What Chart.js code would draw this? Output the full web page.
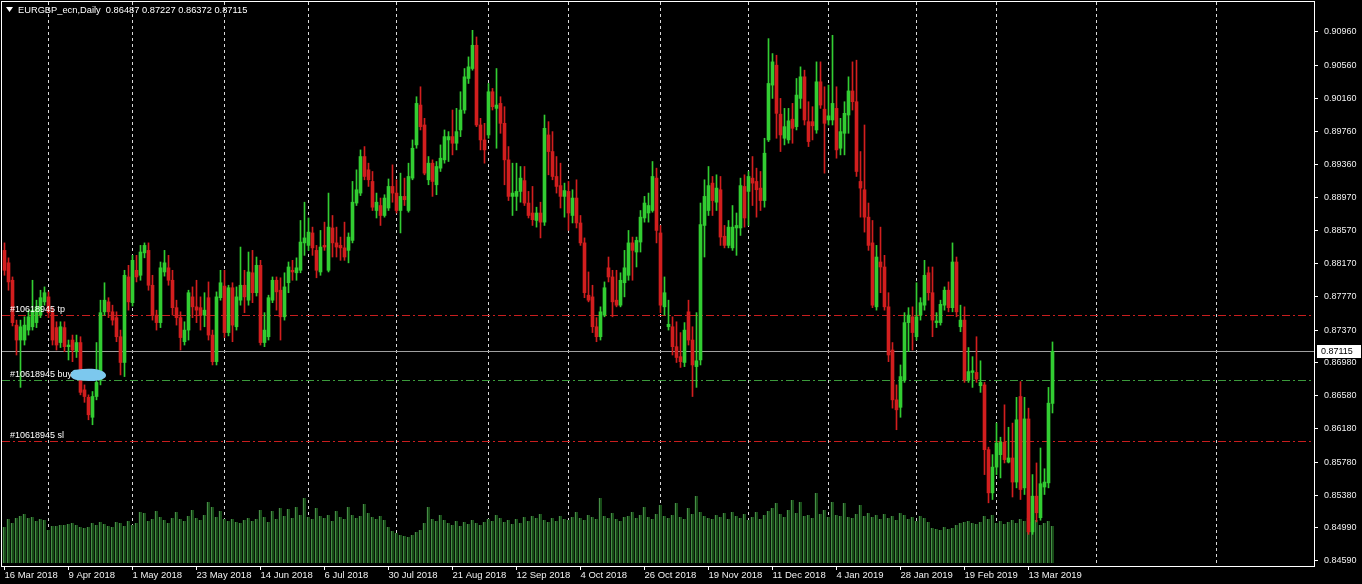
<!DOCTYPE html>
<html>
<head>
<title>EURGBP_ecn, Daily</title>
<script src="https://cdn.jsdelivr.net/npm/chart.js"></script>
<style>
  body { margin: 0; background: #000; }
  canvas { display: block; }
</style>
</head>
<body>
<canvas id="chart" width="1362" height="584"></canvas>
<script>
// daily bars, 16 Mar 2018 .. 21 Mar 2019
const open = [
  0.8833,0.8818,0.8797,0.8743,0.8725,0.8725,0.8737,0.8741,0.8746,0.8755,
  0.8771,0.8777,0.8758,0.8740,0.8722,0.8740,0.8717,0.8725,0.8711,0.8722,
  0.8665,0.8656,0.8632,0.8657,0.8677,0.8759,0.8771,0.8759,0.8752,0.8729,
  0.8698,0.8801,0.8770,0.8809,0.8803,0.8830,0.8833,0.8791,0.8755,0.8746,
  0.8807,0.8812,0.8797,0.8764,0.8752,0.8723,0.8737,0.8777,0.8765,0.8764,
  0.8755,0.8776,0.8731,0.8699,0.8776,0.8790,0.8734,0.8788,0.8741,0.8773,
  0.8791,0.8773,0.8806,0.8782,0.8815,0.8722,0.8729,0.8773,0.8797,0.8785,
  0.8753,0.8794,0.8809,0.8806,0.8809,0.8842,0.8839,0.8854,0.8833,0.8807,
  0.8839,0.8809,0.8860,0.8842,0.8839,0.8836,0.8833,0.8845,0.8890,0.8902,
  0.8946,0.8930,0.8916,0.8881,0.8887,0.8875,0.8884,0.8910,0.8902,0.8881,
  0.8898,0.8881,0.8920,0.8960,0.9008,0.8984,0.8918,0.8938,0.8912,0.8932,
  0.8942,0.8966,0.8970,0.8962,0.8978,0.9002,0.9040,0.9052,0.9080,0.8984,
  0.8966,0.8972,0.9024,0.9004,0.9010,0.8986,0.8942,0.8898,0.8898,0.8904,
  0.8917,0.8890,0.8878,0.8869,0.8878,0.8867,0.8972,0.8952,0.8922,0.8911,
  0.8898,0.8904,0.8875,0.8896,0.8866,0.8842,0.8779,0.8777,0.8741,0.8729,
  0.8755,0.8812,0.8801,0.8773,0.8767,0.8794,0.8803,0.8842,0.8831,0.8843,
  0.8872,0.8878,0.8881,0.8920,0.8854,0.8765,0.8741,0.8741,0.8717,0.8705,
  0.8698,0.8759,0.8725,0.8693,0.8701,0.8863,0.8881,0.8914,0.8891,0.8906,
  0.8850,0.8839,0.8836,0.8860,0.8860,0.8910,0.8904,0.8920,0.8916,0.8908,
  0.8893,0.8966,0.9032,0.9056,0.8997,0.8968,0.8966,0.8991,0.8982,0.9016,
  0.9042,0.8988,0.8988,0.8978,0.9036,0.9003,0.8990,0.8990,0.9004,0.8956,
  0.8974,0.8996,0.9025,0.9012,0.8916,0.8906,0.8873,0.8842,0.8765,0.8819,
  0.8813,0.8765,0.8713,0.8653,0.8644,0.8677,0.8746,0.8753,0.8729,0.8755,
  0.8767,0.8806,0.8782,0.8746,0.8746,0.8767,0.8785,0.8764,0.8819,0.8741,
  0.8749,0.8677,0.8686,0.8686,0.8670,0.8671,0.8593,0.8541,0.8572,0.8587,
  0.8602,0.8578,0.8583,0.8554,0.8657,0.8547,0.8630,0.8494,0.8537,0.8511,
  0.8548,0.8553,0.86487
];
const high = [
  0.8842,0.8824,0.8801,0.8749,0.8749,0.8753,0.8761,0.8797,0.8773,0.8785,
  0.8789,0.8783,0.8764,0.8747,0.8747,0.8747,0.8725,0.8731,0.8731,0.8729,
  0.8671,0.8659,0.8663,0.8722,0.8773,0.8794,0.8776,0.8767,0.8759,0.8737,
  0.8809,0.8815,0.8827,0.8827,0.8839,0.8842,0.8842,0.8803,0.8761,0.8819,
  0.8833,0.8827,0.8809,0.8773,0.8759,0.8747,0.8785,0.8789,0.8797,0.8777,
  0.8782,0.8795,0.8737,0.8783,0.8809,0.8809,0.8791,0.8794,0.8789,0.8837,
  0.8809,0.8831,0.8833,0.8825,0.8821,0.8758,0.8779,0.8801,0.8801,0.8800,
  0.8806,0.8819,0.8821,0.8824,0.8869,0.8891,0.8872,0.8861,0.8839,0.8857,
  0.8867,0.8902,0.8875,0.8861,0.8849,0.8867,0.8854,0.8916,0.8930,0.8954,
  0.8958,0.8938,0.8928,0.8902,0.8896,0.8900,0.8919,0.8936,0.8918,0.8926,
  0.8920,0.8938,0.8966,0.9018,0.9030,0.8992,0.8946,0.8942,0.8940,0.8960,
  0.8978,0.8976,0.9002,0.9004,0.9024,0.9052,0.9066,0.9098,0.9090,0.8992,
  0.8986,0.9034,0.9028,0.9052,0.9018,0.9006,0.8958,0.8938,0.8938,0.8934,
  0.8934,0.8904,0.8910,0.8885,0.8891,0.8996,0.8988,0.8976,0.8946,0.8938,
  0.8914,0.8916,0.8906,0.8918,0.8875,0.8848,0.8807,0.8791,0.8752,0.8765,
  0.8795,0.8825,0.8809,0.8809,0.8806,0.8833,0.8857,0.8849,0.8849,0.8881,
  0.8898,0.8902,0.8940,0.8932,0.8863,0.8801,0.8773,0.8753,0.8747,0.8734,
  0.8746,0.8773,0.8741,0.8758,0.8890,0.8918,0.8934,0.8922,0.8924,0.8922,
  0.8863,0.8869,0.8887,0.8878,0.8920,0.8924,0.8928,0.8946,0.8932,0.8928,
  0.8968,0.9088,0.9070,0.9068,0.9016,0.9004,0.9004,0.9010,0.9040,0.9054,
  0.9050,0.9012,0.9006,0.9060,0.9060,0.9030,0.9032,0.9092,0.9030,0.8992,
  0.9012,0.9042,0.9060,0.9062,0.8952,0.8984,0.8890,0.8869,0.8839,0.8861,
  0.8827,0.8782,0.8722,0.8671,0.8695,0.8758,0.8764,0.8765,0.8794,0.8776,
  0.8821,0.8813,0.8813,0.8758,0.8773,0.8789,0.8795,0.8842,0.8825,0.8767,
  0.8765,0.8716,0.8705,0.8729,0.8700,0.8674,0.8596,0.8587,0.8625,0.8608,
  0.8647,0.8620,0.8625,0.8656,0.8675,0.8656,0.8643,0.8563,0.8577,0.8595,
  0.8570,0.8668,0.87227
];
const low = [
  0.8803,0.8785,0.8742,0.8707,0.8668,0.8719,0.8731,0.8737,0.8740,0.8752,
  0.8767,0.8752,0.8719,0.8713,0.8716,0.8711,0.8701,0.8699,0.8704,0.8659,
  0.8650,0.8629,0.8623,0.8653,0.8671,0.8755,0.8752,0.8743,0.8723,0.8683,
  0.8681,0.8761,0.8766,0.8795,0.8797,0.8824,0.8785,0.8749,0.8737,0.8740,
  0.8802,0.8791,0.8755,0.8743,0.8713,0.8719,0.8725,0.8752,0.8746,0.8737,
  0.8741,0.8725,0.8695,0.8695,0.8773,0.8728,0.8730,0.8723,0.8737,0.8767,
  0.8758,0.8767,0.8770,0.8778,0.8719,0.8717,0.8725,0.8770,0.8761,0.8725,
  0.8749,0.8782,0.8797,0.8797,0.8806,0.8827,0.8833,0.8827,0.8800,0.8803,
  0.8833,0.8807,0.8825,0.8825,0.8821,0.8821,0.8818,0.8842,0.8887,0.8899,
  0.8918,0.8910,0.8881,0.8872,0.8863,0.8873,0.8881,0.8891,0.8878,0.8854,
  0.8887,0.8879,0.8918,0.8956,0.8978,0.8924,0.8912,0.8898,0.8900,0.8928,
  0.8938,0.8940,0.8948,0.8954,0.8970,0.8998,0.9034,0.9050,0.8982,0.8954,
  0.8938,0.8968,0.9002,0.8956,0.8974,0.8912,0.8893,0.8875,0.8881,0.8891,
  0.8887,0.8872,0.8863,0.8861,0.8848,0.8863,0.8924,0.8918,0.8902,0.8884,
  0.8873,0.8857,0.8866,0.8860,0.8839,0.8776,0.8771,0.8734,0.8723,0.8725,
  0.8753,0.8795,0.8753,0.8765,0.8765,0.8777,0.8797,0.8797,0.8813,0.8831,
  0.8867,0.8867,0.8879,0.8842,0.8758,0.8755,0.8737,0.8707,0.8698,0.8692,
  0.8693,0.8719,0.8657,0.8668,0.8695,0.8825,0.8875,0.8875,0.8881,0.8839,
  0.8836,0.8836,0.8833,0.8827,0.8851,0.8861,0.8863,0.8887,0.8873,0.8881,
  0.8885,0.8964,0.9016,0.8968,0.8952,0.8960,0.8962,0.8962,0.8978,0.9004,
  0.8984,0.8958,0.8966,0.8974,0.9004,0.8926,0.8984,0.8984,0.8944,0.8948,
  0.8948,0.8974,0.9002,0.8922,0.8873,0.8855,0.8833,0.8764,0.8761,0.8782,
  0.8761,0.8699,0.8643,0.8617,0.8632,0.8674,0.8711,0.8713,0.8725,0.8749,
  0.8761,0.8773,0.8729,0.8740,0.8743,0.8761,0.8759,0.8759,0.8753,0.8735,
  0.8674,0.8674,0.8668,0.8674,0.8662,0.8563,0.8529,0.8533,0.8563,0.8559,
  0.8577,0.8577,0.8536,0.8547,0.8533,0.8539,0.8491,0.8491,0.8506,0.8508,
  0.8539,0.8547,0.86372
];
const close = [
  0.8809,0.8795,0.8746,0.8725,0.8741,0.8743,0.8753,0.8761,0.8765,0.8776,
  0.8782,0.8758,0.8725,0.8719,0.8741,0.8717,0.8719,0.8713,0.8722,0.8662,
  0.8657,0.8635,0.8657,0.8674,0.8758,0.8773,0.8759,0.8749,0.8729,0.8698,
  0.8803,0.8771,0.8821,0.8801,0.8831,0.8839,0.8791,0.8755,0.8746,0.8812,
  0.8818,0.8797,0.8764,0.8752,0.8728,0.8737,0.8782,0.8765,0.8761,0.8755,
  0.8761,0.8731,0.8699,0.8777,0.8794,0.8734,0.8788,0.8743,0.8777,0.8791,
  0.8777,0.8807,0.8782,0.8815,0.8722,0.8737,0.8776,0.8797,0.8783,0.8753,
  0.8789,0.8813,0.8807,0.8812,0.8843,0.8848,0.8855,0.8836,0.8809,0.8837,
  0.8837,0.8861,0.8842,0.8837,0.8836,0.8825,0.8849,0.8891,0.8906,0.8946,
  0.8922,0.8918,0.8885,0.8891,0.8875,0.8896,0.8910,0.8902,0.8881,0.8898,
  0.8894,0.8922,0.8956,0.9010,0.8982,0.8926,0.8938,0.8916,0.8934,0.8944,
  0.8970,0.8970,0.8962,0.8976,0.9002,0.9042,0.9054,0.9080,0.8984,0.8966,
  0.8954,0.9024,0.9006,0.9008,0.8986,0.8942,0.8898,0.8902,0.8904,0.8920,
  0.8890,0.8875,0.8870,0.8878,0.8867,0.8980,0.8952,0.8922,0.8910,0.8898,
  0.8905,0.8878,0.8896,0.8866,0.8842,0.8782,0.8773,0.8741,0.8729,0.8759,
  0.8788,0.8801,0.8771,0.8767,0.8797,0.8812,0.8842,0.8833,0.8845,0.8873,
  0.8890,0.8887,0.8922,0.8857,0.8767,0.8782,0.8744,0.8717,0.8704,0.8699,
  0.8737,0.8725,0.8695,0.8700,0.8864,0.8898,0.8911,0.8893,0.8908,0.8849,
  0.8839,0.8861,0.8861,0.8863,0.8911,0.8872,0.8922,0.8914,0.8906,0.8893,
  0.8950,0.9034,0.9060,0.8998,0.8972,0.8982,0.8989,0.8980,0.9020,0.9042,
  0.8990,0.8964,0.8983,0.9036,0.9008,0.8986,0.8995,0.9010,0.8954,0.8976,
  0.8998,0.9025,0.9012,0.8928,0.8908,0.8873,0.8839,0.8767,0.8825,0.8813,
  0.8765,0.8707,0.8653,0.8641,0.8681,0.8746,0.8755,0.8734,0.8753,0.8770,
  0.8803,0.8782,0.8749,0.8748,0.8768,0.8785,0.8764,0.8819,0.8759,0.8749,
  0.8677,0.8687,0.8688,0.8678,0.8674,0.8593,0.8541,0.8572,0.8601,0.8602,
  0.8581,0.8583,0.8554,0.8629,0.8545,0.8630,0.8494,0.8537,0.8517,0.8552,
  0.8554,0.8649,0.87115
];
// tick volume, thousands
const volume = [
  36,44,40,45,47,49,45,46,42,44,43,
  33,37,37,38,38,39,40,38,36,35,36,40,38,41,39,37,36,41,40,37,42,38,
  40,51,50,42,44,52,46,43,40,45,51,44,42,47,53,45,43,48,61,56,46,52,44,
  42,44,41,40,43,45,42,44,53,46,41,52,44,55,47,54,45,56,48,65,
  46,44,55,47,45,48,42,52,46,44,56,48,45,47,59,50,46,44,47,43,36,32,30,28,27,
  26,28,31,33,40,56,44,42,48,43,40,38,42,37,41,39,43,40,38,41,
  44,42,48,45,41,43,39,44,40,46,42,47,45,49,43,41,45,42,47,44,43,46,51,
  45,43,48,46,44,65,47,45,50,44,42,46,47,51,45,48,56,46,44,49,58,47,
  45,48,60,46,44,55,49,67,51,47,45,44,48,46,50,44,51,47,45,49,43,46,51,44,48,
  52,55,60,49,46,53,63,50,61,47,48,45,70,49,53,46,61,48,47,60,46,45,49,58,47,
  50,46,48,44,49,45,47,43,50,48,44,46,42,47,45,41,35,34,33,36,34,35,38,40,41,
  42,40,39,41,47,44,48,40,42,39,41,43,40,44,42,45,41,43,38,40,42,37
];

const dateBars = [0,16,32,48,64,80,96,112,128,144,160,176,192,208,224,240,256];
const dateLabels = ['16 Mar 2018','9 Apr 2018','1 May 2018','23 May 2018','14 Jun 2018','6 Jul 2018',
  '30 Jul 2018','21 Aug 2018','12 Sep 2018','4 Oct 2018','26 Oct 2018','19 Nov 2018',
  '11 Dec 2018','4 Jan 2019','28 Jan 2019','19 Feb 2019','13 Mar 2019'];
// month separators; the last two lie in the empty space right of the last bar
const monthBars = [11,32,55,76,98,121,141,164,186,206,228,248,273,303];
const priceTicks = [0.90960,0.90560,0.90160,0.89760,0.89360,0.88970,0.88570,0.88170,0.87770,
  0.87370,0.86980,0.86580,0.86180,0.85780,0.85380,0.84990,0.84590];

const orderId = '#10618945';
const orderNames = ['tp', 'buy', 'sl'];
const orderPrices = [0.87553, 0.86773, 0.86040];
const orderColors = ['#c81e1e', '#3c9a3c', '#c81e1e'];
const lastPrice = 0.87115;
const titleText = 'EURGBP_ecn,Daily  0.86487 0.87227 0.86372 0.87115';

const bull = '#32cd32', bear = '#d21e1e';
const colors = close.map((c, i) => c >= open[i] ? bull : bear);

const overlay = {
  id: 'overlay',
  beforeDatasetsDraw(chart) {
    const {ctx, chartArea: a, scales} = chart;
    ctx.save();
    ctx.beginPath(); ctx.rect(a.left, a.top, a.width, a.height); ctx.clip();
    ctx.lineWidth = 1;
    // current bid line
    const py = Math.round(scales.y.getPixelForValue(lastPrice)) + 0.5;
    ctx.strokeStyle = '#a0a0a0';
    ctx.beginPath(); ctx.moveTo(a.left, py); ctx.lineTo(a.right, py); ctx.stroke();
    // order levels (dash-dot)
    orderPrices.forEach((p, k) => {
      const y = Math.round(scales.y.getPixelForValue(p)) + 0.5;
      ctx.strokeStyle = orderColors[k];
      ctx.setLineDash([8, 3, 2, 3]);
      ctx.beginPath(); ctx.moveTo(a.left, y); ctx.lineTo(a.right, y); ctx.stroke();
    });
    ctx.restore();
  },
  afterDraw(chart) {
    const {ctx, chartArea: a, scales} = chart;
    ctx.save();
    // frame
    ctx.strokeStyle = '#ffffff';
    ctx.lineWidth = 1;
    ctx.strokeRect(a.left - 0.5, a.top - 0.5, a.width + 1, a.height + 1);

    ctx.font = '9px "Liberation Sans"';
    ctx.textBaseline = 'middle';
    ctx.fillStyle = '#ffffff';
    orderPrices.forEach((p, k) => {
      const y = scales.y.getPixelForValue(p);
      ctx.fillText(orderId + ' ' + orderNames[k], 10, y - 5);
    });
    // scribble over the buy label
    const by = scales.y.getPixelForValue(orderPrices[1]) - 5;
    ctx.fillStyle = '#7cc8ee';
    ctx.beginPath();
    ctx.moveTo(76, by - 5);
    ctx.bezierCurveTo(90, by - 7, 104, by - 6, 106, by);
    ctx.bezierCurveTo(107, by + 5, 96, by + 7, 86, by + 6);
    ctx.bezierCurveTo(74, by + 6, 70, by + 3, 71, by);
    ctx.bezierCurveTo(71, by - 3, 73, by - 5, 76, by - 5);
    ctx.fill();

    // last price box on the axis
    const py = Math.round(scales.y.getPixelForValue(lastPrice));
    ctx.fillStyle = '#ffffff';
    ctx.fillRect(a.right + 3, py - 6, 44, 13);
    ctx.fillStyle = '#000000';
    ctx.fillText(lastPrice.toFixed(5), a.right + 7, py + 0.5);

    // title
    ctx.fillStyle = '#ffffff';
    ctx.beginPath();
    ctx.moveTo(6, 7); ctx.lineTo(13, 7); ctx.lineTo(9.5, 12); ctx.closePath(); ctx.fill();
    ctx.font = '9.3px "Liberation Sans"';
    ctx.fillText(titleText, 18, 10);
    ctx.restore();
  }
};

const xMin = -0.625, xMax = 327.375;
const noPad = s => { s.paddingTop = 0; s.paddingBottom = 0; s.paddingLeft = 0; s.paddingRight = 0; };

new Chart(document.getElementById('chart'), {
  type: 'bar',
  data: {
    datasets: [
      {
        label: 'volume',
        data: volume.map((v, i) => ({x: i, y: v})),
        yAxisID: 'yv', xAxisID: 'x',
        backgroundColor: '#174a17',
        borderColor: '#5fb25f',
        borderWidth: {left: 1, right: 0, top: 0, bottom: 0},
        borderSkipped: false,
        barThickness: 3,
        grouped: false,
        order: 3
      },
      {
        label: 'wick',
        data: low.map((l, i) => ({x: i, y: [l, high[i]]})),
        yAxisID: 'y', xAxisID: 'x',
        backgroundColor: colors,
        barThickness: 1,
        grouped: false,
        order: 2
      },
      {
        label: 'body',
        data: open.map((o, i) => ({x: i, y: [o, close[i]]})),
        yAxisID: 'y', xAxisID: 'x',
        backgroundColor: colors,
        barThickness: 3,
        minBarLength: 1,
        grouped: false,
        order: 1
      }
    ]
  },
  options: {
    responsive: false,
    animation: false,
    devicePixelRatio: 1,
    layout: { padding: { left: 2, top: 2, right: 0, bottom: 0 } },
    plugins: { legend: { display: false }, tooltip: { enabled: false } },
    scales: {
      x: {
        type: 'linear', position: 'bottom', min: xMin, max: xMax, offset: false,
        afterBuildTicks: s => { s.ticks = dateBars.map(v => ({value: v})); },
        afterFit: s => { s.height = 18; noPad(s); },
        ticks: {
          callback: v => dateLabels[dateBars.indexOf(v)],
          color: '#f0f0f0', font: { family: 'Liberation Sans', size: 9.5 },
          align: 'start', maxRotation: 0, autoSkip: false, padding: 0
        },
        grid: { offset: false, drawOnChartArea: false, drawTicks: true, tickLength: 4, color: '#ffffff' },
        border: { display: false }
      },
      xg: {
        type: 'linear', position: 'top', min: xMin, max: xMax, offset: false,
        afterBuildTicks: s => { s.ticks = monthBars.map(v => ({value: v})); },
        afterFit: s => { s.height = 0; noPad(s); },
        ticks: { display: false },
        grid: { offset: false, color: '#d8d8d8', drawTicks: false },
        border: { display: false, dash: [3, 3] }
      },
      y: {
        type: 'linear', position: 'right', min: 0.84529, max: 0.91321,
        afterBuildTicks: s => { s.ticks = priceTicks.map(v => ({value: v})); },
        afterFit: s => { s.width = 48; noPad(s); },
        ticks: {
          callback: v => v.toFixed(5),
          color: '#f0f0f0', font: { family: 'Liberation Sans', size: 9 },
          padding: 6, autoSkip: false
        },
        grid: { drawOnChartArea: false, drawTicks: true, tickLength: 4, color: '#ffffff' },
        border: { display: false }
      },
      yv: { type: 'linear', display: false, min: -3, max: 561 }
    }
  },
  plugins: [overlay]
});
</script>
</body>
</html>
